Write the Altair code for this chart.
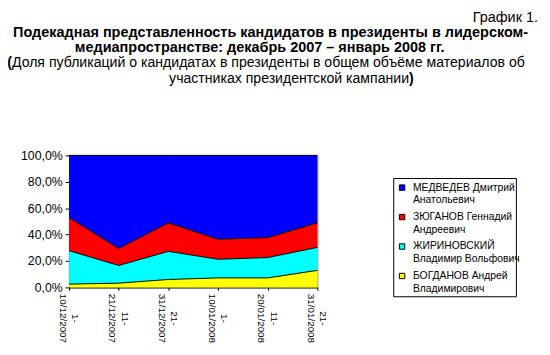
import altair as alt
import pandas as pd

periods = ["1-|10/12/2007", "11-|21/12/2007", "21-|31/12/2007",
           "1-|10/01/2008", "11-|20/01/2008", "21-|31/01/2008"]
series = ["МЕДВЕДЕВ Дмитрий|Анатольевич", "ЗЮГАНОВ Геннадий|Андреевич",
          "ЖИРИНОВСКИЙ|Владимир Вольфович", "БОГДАНОВ Андрей|Владимирович"]
colors = ["#0000FF", "#FF0000", "#00FFFF", "#FFFF00"]
medvedev = [47.1, 70.5, 51.1, 63.5, 62.3, 51.1]
zyuganov = [25.1, 12.9, 21.6, 15.2, 15.1, 18.6]
zhirinovsky = [25.3, 13.4, 21.3, 14.1, 15.4, 17.4]
bogdanov = [2.5, 3.2, 6.0, 7.2, 7.2, 12.9]

values = [medvedev, zyuganov, zhirinovsky, bogdanov]
rows = []
for si, (name, vals) in enumerate(zip(series, values)):
    for pi, (p, v) in enumerate(zip(periods, vals)):
        rows.append({"period": p, "pidx": pi, "candidate": name, "share": v,
                     "stackorder": len(series) - 1 - si})
df = pd.DataFrame(rows)

FONT = "Liberation Sans"

xenc = alt.X("period:O", sort=periods, scale=alt.Scale(type="point", padding=0),
             axis=alt.Axis(title=None, labelExpr="split(datum.label, '|')",
                           labelAngle=90, labelAlign="center", labelBaseline="middle",
                           labelFontSize=10, labelColor="black", labelFont=FONT,
                           labelLineHeight=12.5, labelOffset=5.5,
                           tickSize=3, tickColor="black", domainColor="black",
                           labelPadding=28, labelOverlap=False))
yaxis = alt.Axis(title=None, values=[0, 0.2, 0.4, 0.6, 0.8, 1.0],
                 labelExpr="replace(format(datum.value, '.1%'), '.', ',')",
                 labelFontSize=12.5, labelColor="black", labelFont=FONT,
                 tickSize=4, tickColor="black", domainColor="black",
                 labelPadding=3, grid=False)

area = alt.Chart(df).mark_area(opacity=1).encode(
    x=xenc,
    y=alt.Y("share:Q", stack="normalize", scale=alt.Scale(domain=[0, 1]), axis=yaxis),
    color=alt.Color("candidate:N", scale=alt.Scale(domain=series, range=colors), legend=None),
    order=alt.Order("stackorder:Q"),
)

lines = alt.Chart(df).transform_stack(
    stack="share", as_=["y0", "y1"], groupby=["period"],
    sort=[alt.SortField("stackorder", order="ascending")], offset="normalize"
).mark_line(color="black", strokeWidth=1).encode(
    x=xenc,
    y=alt.Y("y1:Q", scale=alt.Scale(domain=[0, 1]), axis=yaxis),
    detail="candidate:N",
    order=alt.Order("pidx:Q"),
)

one = pd.DataFrame({"a": [0]})

def txt(text, x, y, size, weight="normal", align="center", baseline="alphabetic"):
    return alt.Chart(one).mark_text(text=text, font=FONT, fontSize=size,
                                    fontWeight=weight, align=align,
                                    baseline=baseline, color="black").encode(
        x=alt.value(x), y=alt.value(y))

titles = [
    txt("График 1.", 476, -135.5, 14.67, align="right"),
    txt("Подекадная представленность кандидатов в президенты в лидерском-", 204.5, -120, 14.67, "bold"),
    txt("медиапространстве: декабрь 2007 – январь 2008 гг.", 193.5, -105, 14.67, "bold"),
    txt("(", -58, -90, 14.3, "bold", align="right"),
    txt("Доля публикаций о кандидатах в президенты в общем объёме материалов об", -58, -90, 14.3, align="left"),
    txt("участниках президентской кампании", 345, -73, 14.3, align="right"),
    txt(")", 345, -73, 14.3, "bold", align="left"),
]

# legend (manual, Excel style)
legend_layers = [
    alt.Chart(one).mark_rect(fill="white", stroke="black", strokeWidth=1).encode(
        x=alt.value(329.5), x2=alt.value(454), y=alt.value(23.5), y2=alt.value(143.5))
]
for i, (name, col) in enumerate(zip(series, colors)):
    ys = 32.7 + 29.9 * i
    legend_layers.append(
        alt.Chart(one).mark_square(size=30, fill=col, opacity=1, stroke="black",
                                   strokeWidth=1).encode(
            x=alt.value(338), y=alt.value(ys)))
    for j, line in enumerate(name.split("|")):
        legend_layers.append(txt(line, 349, ys + 13 * j, 10.5, align="left", baseline="middle"))

chart = alt.layer(area, lines, *titles, *legend_layers).properties(
    width=252, height=134,
    autosize=alt.AutoSizeParams(type="none"),
    padding={"left": 62, "top": 147, "right": 228, "bottom": 64},
    background="white",
).configure_view(stroke="#808080", strokeWidth=1)

chart.save("out.html", embed_options={"renderer": "svg", "actions": False})
